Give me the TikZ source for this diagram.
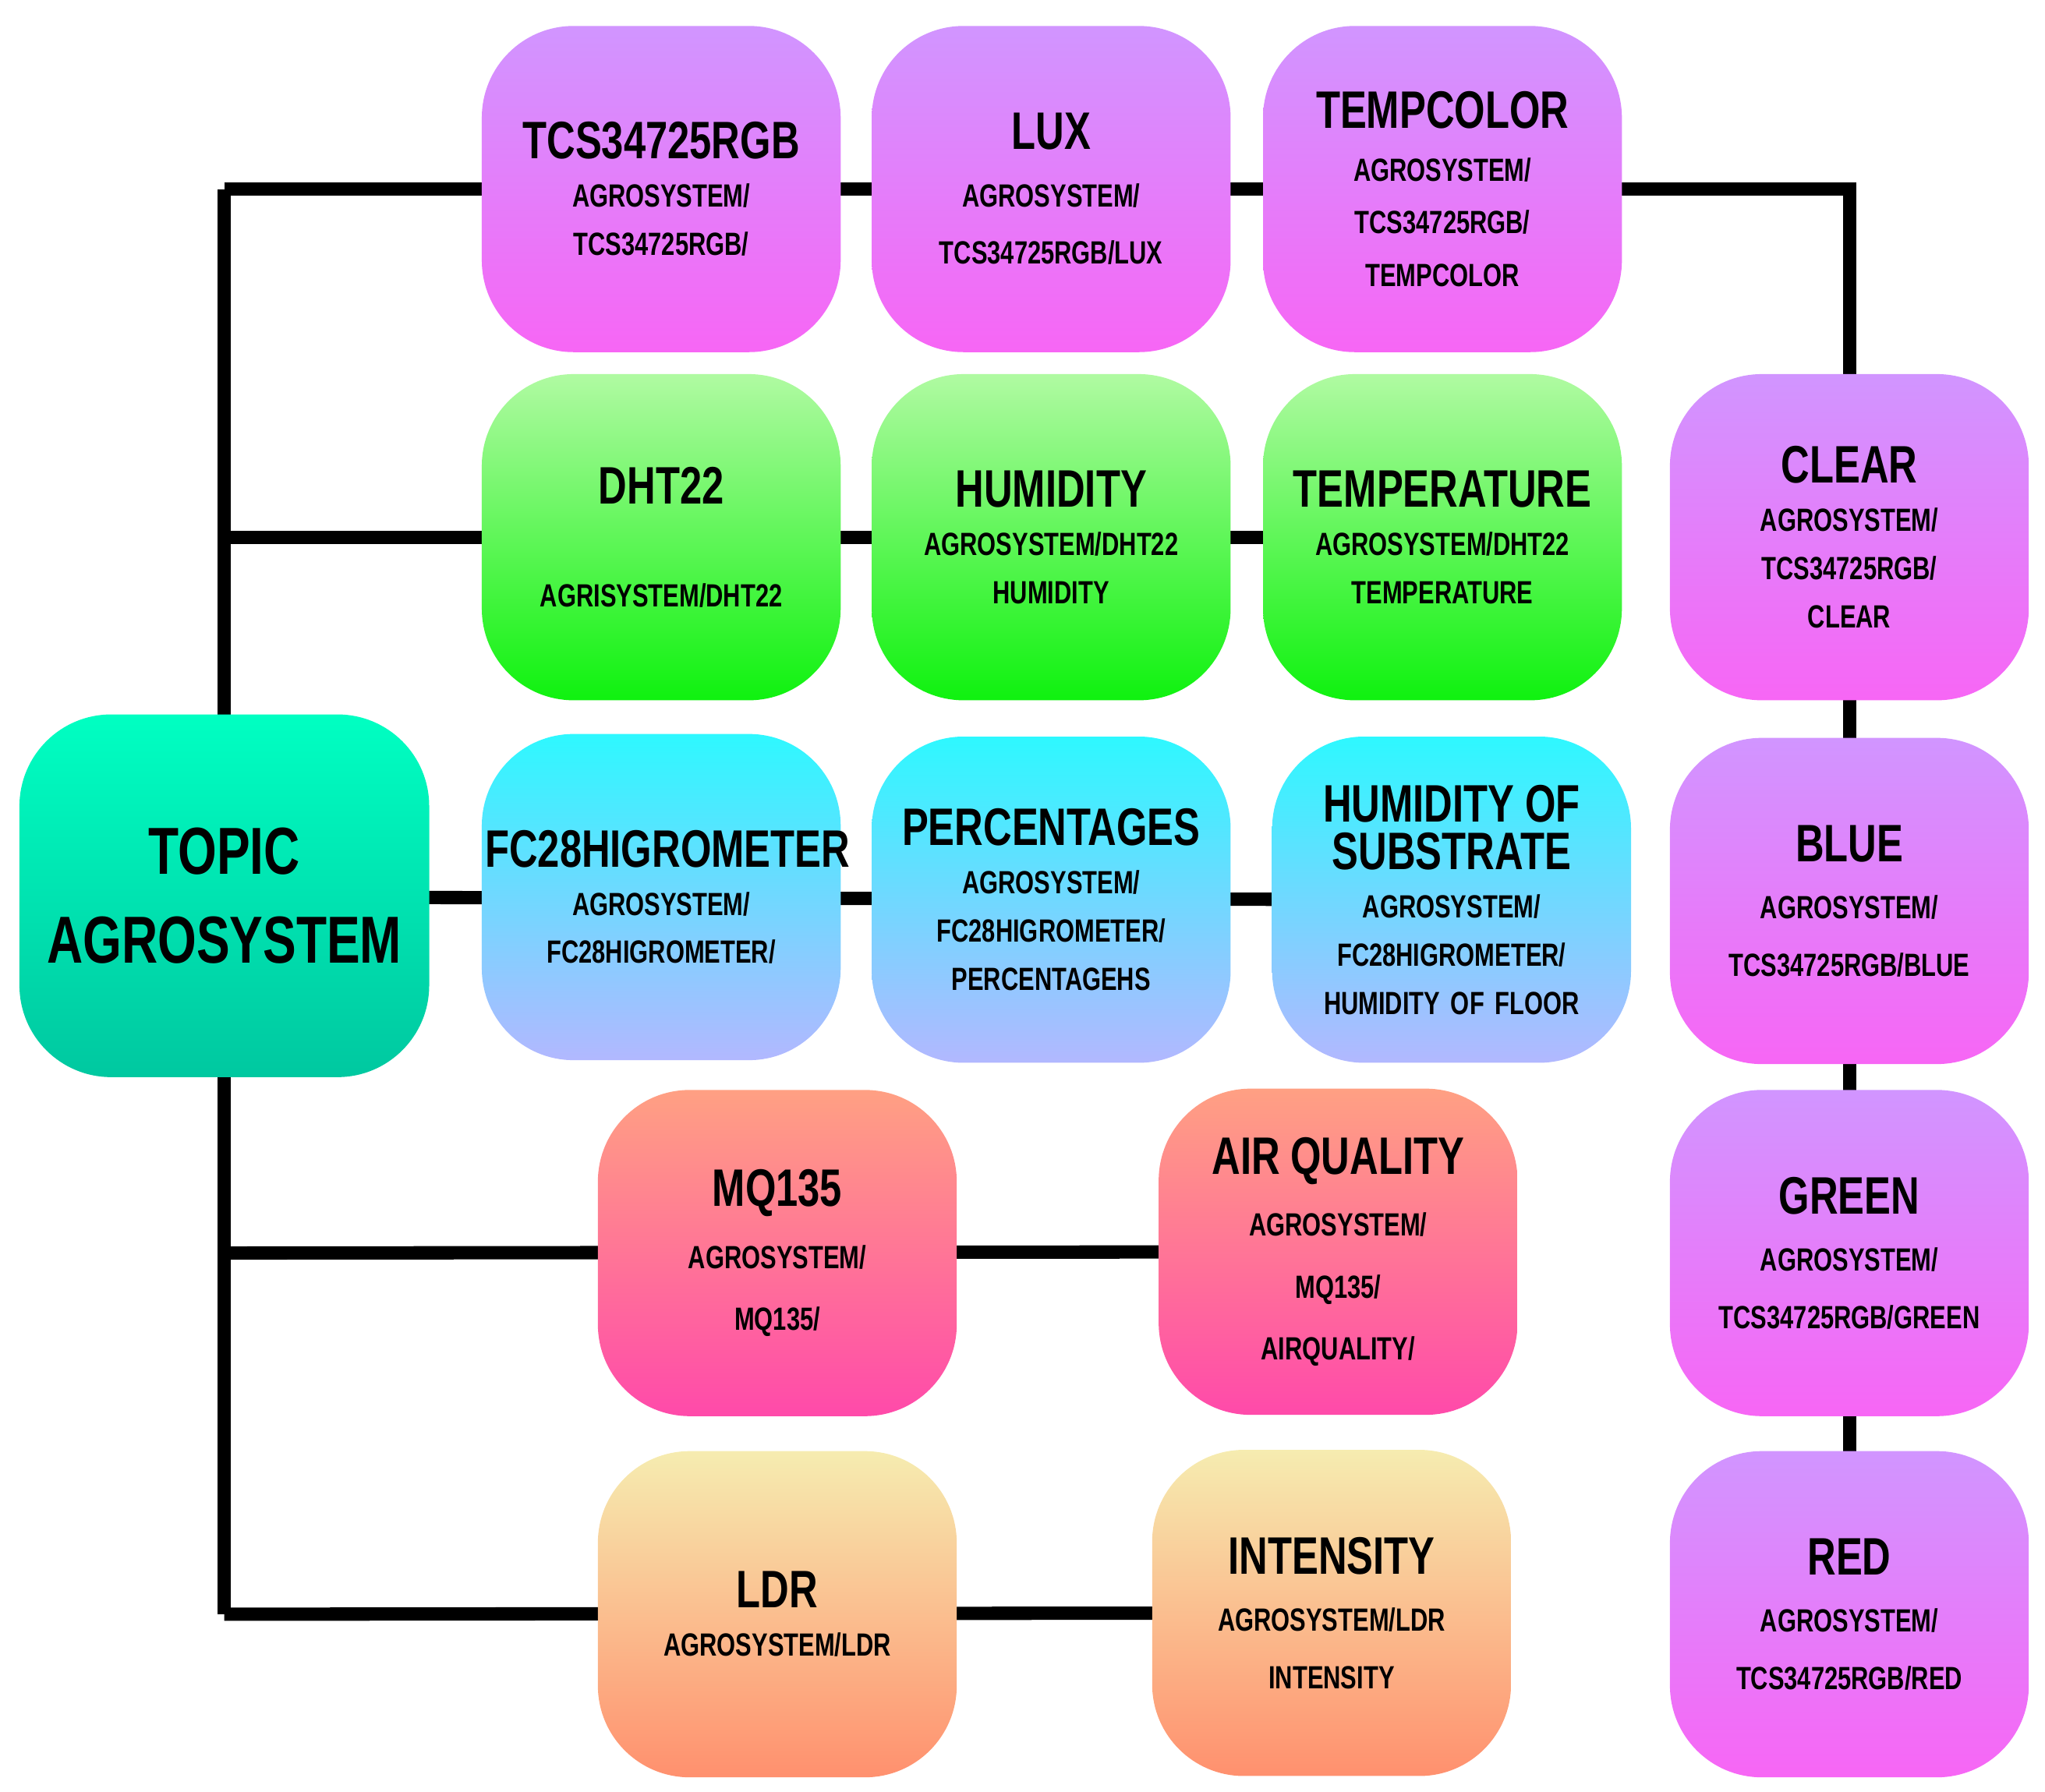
\documentclass[tikz,border=0pt]{standalone}
\usepackage{fontspec}
\setmainfont{Liberation Sans}[FakeStretch=0.75]
\newcommand\ttl[1]{{\fontsize{11.5}{15}\selectfont #1}}
\begin{document}
\begin{tikzpicture}[x=0.01cm,y=-0.01cm,
 box/.style={rounded corners=20pt,minimum width=2.75cm,minimum height=2.5cm,inner sep=0pt,align=center,font=\bfseries\fontsize{7}{10.5}\selectfont,text width=2.7cm},
 pur/.style={box,top color=pur1,bottom color=pur2},
 grn/.style={box,top color=grn1,bottom color=grn2},
 cyn/.style={box,top color=cyn1,bottom color=cyn2},
 red/.style={box,top color=red1,bottom color=red2},
 org/.style={box,top color=org1,bottom color=org2},
 ln/.style={line width=2.9pt}]
\definecolor{pur1}{HTML}{D195FF}\definecolor{pur2}{HTML}{F766F5}
\definecolor{grn1}{HTML}{B0FAA2}\definecolor{grn2}{HTML}{0FF20F}
\definecolor{cyn1}{HTML}{2EF8FF}\definecolor{cyn2}{HTML}{B2B8FF}
\definecolor{red1}{HTML}{FFA083}\definecolor{red2}{HTML}{FF4AAA}
\definecolor{org1}{HTML}{F6ECB0}\definecolor{org2}{HTML}{FF906E}
\definecolor{top1}{HTML}{00FFC2}\definecolor{top2}{HTML}{00C8A0}
\useasboundingbox (0,0) rectangle (1568,1374);
\coordinate (s1) at (172,145);
\coordinate (s2) at (172,412);
\coordinate (s4) at (172,961);
\coordinate (s5) at (172,1238);
\coordinate (c1) at (1418,145);
\draw[ln] (s1) -- (s5);
\draw[ln] (s1) -- (1106,145) -- (c1) -- (1418,412);
\draw[ln] (s2) -- (1106,412);
\draw[ln] (172,688) -- (1113,690);
\draw[ln] (s4) -- (1026,960);
\draw[ln] (s5) -- (1021,1237);
\draw[ln] (1418,412) -- (1418,1238);
\node[box,top color=top1,bottom color=top2,minimum width=3.14cm,minimum height=2.78cm,text width=3.1cm,font=\bfseries\fontsize{14.5}{19.5}\selectfont] (topic) at (172,687) {TOPIC\\AGROSYSTEM};
\node[pur] (tcs) at (507,145) {\ttl{TCS34725RGB}\\AGROSYSTEM/\\TCS34725RGB/};
\node[pur] (lux) at (806,145) {\ttl{LUX}\\[2pt]AGROSYSTEM/\\[2pt]TCS34725RGB/LUX};
\node[pur] (tc) at (1106,145) {\ttl{TEMPCOLOR}\\[1pt]AGROSYSTEM/\\[1pt]TCS34725RGB/\\[1pt]TEMPCOLOR};
\node[grn] (dht) at (507,412) {\ttl{DHT22}\\[12pt]AGRISYSTEM/DHT22};
\node[grn] (hum) at (806,412) {\ttl{HUMIDITY}\\AGROSYSTEM/DHT22\\HUMIDITY};
\node[grn] (tem) at (1106,412) {\ttl{TEMPERATURE}\\AGROSYSTEM/DHT22\\TEMPERATURE};
\node[cyn] (fc) at (507,688) {\ttl{FC28HIGROMETER}\\AGROSYSTEM/\\FC28HIGROMETER/};
\node[cyn] (pc) at (806,690) {\ttl{PERCENTAGES}\\AGROSYSTEM/\\FC28HIGROMETER/\\PERCENTAGEHS};
\node[cyn] (hs) at (1113,690) {{\fontsize{11.5}{14}\selectfont HUMIDITY OF\\SUBSTRATE}\\AGROSYSTEM/\\FC28HIGROMETER/\\HUMIDITY OF FLOOR};
\node[red] (mq) at (596,961) {\ttl{MQ135}\\[3pt]AGROSYSTEM/\\[3pt]MQ135/};
\node[red] (aq) at (1026,960) {\ttl{AIR QUALITY}\\[3pt]AGROSYSTEM/\\[3pt]MQ135/\\[3pt]AIRQUALITY/};
\node[org] (ldr) at (596,1238) {\ttl{LDR}\\AGROSYSTEM/LDR};
\node[org] (int) at (1021,1237) {\ttl{INTENSITY}\\[2pt]AGROSYSTEM/LDR\\[2pt]INTENSITY};
\node[pur] (clr) at (1418,412) {\ttl{CLEAR}\\AGROSYSTEM/\\TCS34725RGB/\\CLEAR};
\node[pur] (blu) at (1418,691) {\ttl{BLUE}\\[2pt]AGROSYSTEM/\\[2pt]TCS34725RGB/BLUE};
\node[pur] (grnn) at (1418,961) {\ttl{GREEN}\\[2pt]AGROSYSTEM/\\[2pt]TCS34725RGB/GREEN};
\node[pur] (redn) at (1418,1238) {\ttl{RED}\\[2pt]AGROSYSTEM/\\[2pt]TCS34725RGB/RED};
\end{tikzpicture}
\end{document}
